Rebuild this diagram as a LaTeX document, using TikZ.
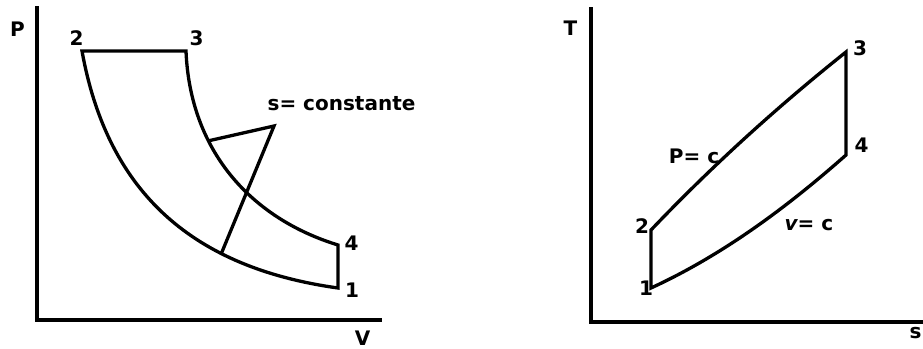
\documentclass[tikz,border=0pt]{standalone}
\usepackage{fontspec}
\setmainfont{DejaVu Sans}
\begin{document}
\begin{tikzpicture}[x=1pt,y=-1pt,line width=3.3pt,
  axis/.style={line width=3.6pt},
  lbl/.style={font=\fontsize{20}{24}\selectfont\bfseries,inner sep=0pt,anchor=base}]
\useasboundingbox (0,0) rectangle (923,348);

% P-v diagram
\coordinate (pvtop) at (37,6);
\coordinate (pvo) at (37,320);
\coordinate (pvend) at (382,320);
\draw[axis] (pvtop) -- (pvo) -- (pvend);

\coordinate (p1) at (338,288);
\coordinate (p2) at (82,51);
\coordinate (p3) at (186,51);
\coordinate (p4) at (338,245);
\draw (p2) -- (p3) .. controls (190,150) and (250,218) .. coordinate[pos=0.34] (sa) (p4)
  -- (p1) .. controls (195,268) and (108,195) .. coordinate[pos=0.31] (sc) (p2) -- cycle;

% s = constant
\coordinate (sb) at (274,126);
\draw (sa) -- (sb) -- (sc);

\node[lbl] (lP) at (17.5,36) {P};
\node[lbl] (lV) at (362.5,345) {V};
\node[lbl] (l2) at (76.5,45.5) {2};
\node[lbl] (l3) at (196.5,45.5) {3};
\node[lbl] (l4) at (351.5,250) {4};
\node[lbl] (l1) at (352,297) {1};
\node[lbl] (ls) at (341.5,110.5) {s= constante};

% T-s diagram
\coordinate (tstop) at (591,7);
\coordinate (tso) at (591,322);
\coordinate (tsend) at (923,322);
\draw[axis] (tstop) -- (tso) -- (tsend);

\coordinate (t1) at (651,288);
\coordinate (t2) at (651,230);
\coordinate (t3) at (846,52);
\coordinate (t4) at (846,155);
\draw (t1) -- (t2) .. controls (712,166) and (777,107) .. (t3)
  -- (t4) .. controls (780,213.5) and (716.7,257.75) .. (t1) -- cycle;

\node[lbl] (lT) at (570.5,35) {T};
\node[lbl] (lS) at (915.5,338) {s};
\node[lbl] (m1) at (646,295) {1};
\node[lbl] (m2) at (642,233) {2};
\node[lbl] (m3) at (860,55) {3};
\node[lbl] (m4) at (861.5,152) {4};
\node[lbl] (lpc) at (694,163) {P= c};
\node[lbl] (lvc) at (809,230) {{\itshape v}= c};
\end{tikzpicture}
\end{document}
